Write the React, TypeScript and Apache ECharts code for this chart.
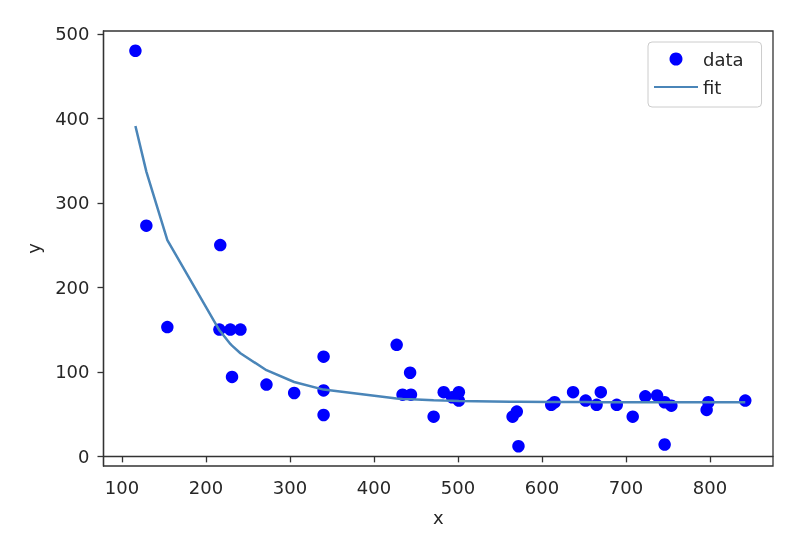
import { useEffect, useRef } from 'react'
import * as echarts from 'echarts'

// scatter points
const dataX = [
  116, 129, 154, 217, 216, 229, 241, 231, 272, 305, 340, 340, 340, 427, 443, 434, 444, 471, 483, 493, 501,
  501, 565, 570, 572, 611, 615, 637, 652, 665, 670, 689, 708, 723, 737, 746, 754, 746, 798, 796, 842,
]
const dataY = [
  480, 273, 153, 250, 150, 150, 150, 94, 85, 75, 118, 78, 49, 132, 99, 73, 73, 47, 76, 70, 76,
  66, 47, 53, 12, 61, 64, 76, 66, 61, 76, 61, 47, 71, 72, 64, 60, 14, 64, 55, 66,
]

// fitted curve, sampled at the data x values
const fitX = [
  116, 129, 154, 216, 217, 229, 231, 241, 272, 305, 340, 427, 434, 443, 444, 471, 483, 493, 501,
  565, 570, 572, 611, 615, 637, 652, 665, 670, 689, 708, 723, 737, 746, 754, 796, 798, 842,
]
const fitY = [
  391, 337, 256, 149, 148, 133, 131, 122, 102, 88, 79, 68.5, 68, 67.5, 67.5, 66.4, 66, 65.8, 65.6,
  64.7, 64.6, 64.6, 64.4, 64.3, 64.2, 64.2, 64.1, 64.1, 64.1, 64, 64, 64, 64, 64, 64, 64, 64,
]

const xTicks = [100, 200, 300, 400, 500, 600, 700, 800]
const yTicks = [0, 100, 200, 300, 400, 500]

const font = 'DejaVu Sans'
const ink = '#262626'
const frame = '#333333'
const fitColor = '#4a85b8'

export default function App() {
  const ref = useRef<HTMLDivElement | null>(null)

  useEffect(() => {
    if (!ref.current) return
    const chart = echarts.init(ref.current, undefined, { renderer: 'svg' })

    const axisCommon = {
      type: 'value' as const,
      nameLocation: 'middle' as const,
      nameTextStyle: { fontSize: 18, color: ink, fontFamily: font },
      splitLine: { show: false },
      axisLine: { show: true, lineStyle: { color: frame, width: 1.3 } },
    }

    chart.setOption({
      animation: false,
      textStyle: { fontFamily: font },
      grid: {
        left: 103.5,
        right: 37,
        top: 31,
        bottom: 74,
        show: true,
        borderColor: frame,
        borderWidth: 1.3,
        backgroundColor: '#fff',
      },
      legend: {
        orient: 'vertical',
        left: 648,
        top: 42,
        padding: [8, 18, 11, 5],
        itemGap: 10,
        itemWidth: 44,
        itemHeight: 13,
        itemTextGap: 13,
        backgroundColor: '#fff',
        borderColor: '#cccccc',
        borderWidth: 1,
        borderRadius: 4,
        textStyle: { fontSize: 18, color: ink, fontFamily: font },
        data: [
          { name: 'data', icon: 'circle' },
          { name: 'fit', itemStyle: { opacity: 0 } },
        ],
      },
      xAxis: {
        ...axisCommon,
        min: 78,
        max: 875,
        name: 'x',
        nameGap: 42,
        axisTick: { show: true, length: 6, customValues: xTicks, lineStyle: { color: frame, width: 1.3 } },
        axisLabel: { customValues: xTicks, fontSize: 18, color: ink, fontFamily: font, margin: 12 },
      },
      yAxis: {
        ...axisCommon,
        min: -11.4,
        max: 503.4,
        name: 'y',
        nameGap: 61,
        axisTick: { show: true, length: 6, customValues: yTicks, lineStyle: { color: frame, width: 1.3 } },
        axisLabel: { customValues: yTicks, fontSize: 18, color: ink, fontFamily: font, margin: 14 },
      },
      series: [
        {
          name: 'data',
          type: 'scatter',
          symbol: 'circle',
          symbolSize: 12.5,
          itemStyle: { color: '#0000ff', opacity: 1 },
          data: dataX.map((x, i) => [x, dataY[i]]),
          z: 2,
        },
        {
          name: 'fit',
          type: 'line',
          symbol: 'none',
          lineStyle: { color: fitColor, width: 2.5 },
          itemStyle: { color: fitColor },
          data: fitX.map((x, i) => [x, fitY[i]]),
          z: 3,
        },
      ],
    })

    return () => chart.dispose()
  }, [])

  return <div ref={ref} style={{ position: 'fixed', left: 0, top: 0, width: 810, height: 540 }} />
}
